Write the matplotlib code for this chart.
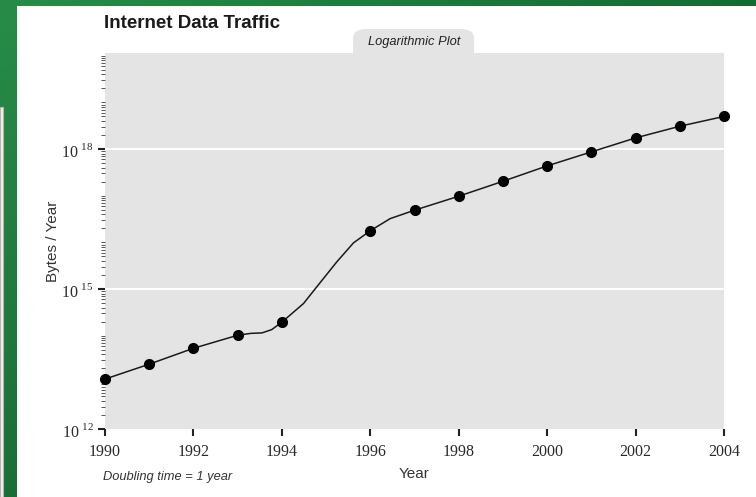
import numpy as np
import matplotlib
matplotlib.use("Agg")
import matplotlib.pyplot as plt
from matplotlib.patches import Rectangle, FancyBboxPatch
from matplotlib.ticker import FixedLocator, FixedFormatter, LogLocator, NullFormatter

plt.rcParams['font.family'] = ['Liberation Sans', 'DejaVu Sans']
plt.rcParams['mathtext.fontset'] = 'custom'
plt.rcParams['mathtext.rm'] = 'Liberation Serif'

# yearly measurements (log10 of bytes per year)
years = [1990, 1991, 1992, 1993, 1994, 1996, 1997, 1998, 1999, 2000, 2001, 2002, 2003, 2004]
log_bytes = [13.07, 13.39, 13.73, 14.01, 14.29, 16.25, 16.69, 16.99, 17.31, 17.64, 17.94, 18.24, 18.49, 18.70]

# trend curve drawn through the points
curve_years = [1990, 1991, 1992, 1993, 1993.3, 1993.55, 1993.77, 1994, 1994.49, 1994.75, 1995.24,
               1995.62, 1996, 1996.45, 1997, 1998, 1999, 2000, 2001, 2002, 2003, 2004]
curve_log = [13.07, 13.39, 13.73, 14.01, 14.05, 14.06, 14.13, 14.29, 14.69, 15.0, 15.58,
             15.99, 16.25, 16.51, 16.69, 16.99, 17.31, 17.64, 17.94, 18.24, 18.49, 18.70]

xticks = [1990, 1992, 1994, 1996, 1998, 2000, 2002, 2004]
ymajor = [1e12, 1e15, 1e18]
ylabels = [r'$10^{\ 12}$', r'$10^{\ 15}$', r'$10^{\ 18}$']

W, H = 756, 497
fig = plt.figure(figsize=(W / 100, H / 100), dpi=100)

# green backdrop with a soft gradient
bg = fig.add_axes([0, 0, 1, 1], zorder=-10)
bg.axis('off')
gx = np.linspace(0, 1, 200)[None, :]
gy = np.linspace(0, 1, 200)[:, None]
top = np.array([40, 140, 72]) / 255
dark = np.array([12, 82, 38]) / 255
t = np.clip(0.6 * gx + 0.5 * gy, 0, 1)[..., None]
grad = top * (1 - t) + dark * t
bg.imshow(grad, extent=[0, 1, 0, 1], aspect='auto', origin='upper')
bg.set_xlim(0, 1)
bg.set_ylim(0, 1)
bg.add_patch(Rectangle((17 / W, 0), 1, (H - 6) / H, facecolor='white', edgecolor='none'))
bg.add_patch(Rectangle((0, 0), 3 / W, (H - 107) / H, facecolor='#f2f0ec', edgecolor='#b8b4ae', lw=0.8))

# tab above the plot area
tab = FancyBboxPatch((353 / W, (H - 75) / H), 121 / W, 46 / H,
                     boxstyle='round,pad=0,rounding_size=0.018',
                     facecolor='#e4e4e4', edgecolor='none', transform=fig.transFigure, zorder=-5)
fig.patches.append(tab)
fig.text(414 / W, 1 - 42 / H, 'Logarithmic Plot', ha='center', va='center',
         fontsize=9.3, style='italic', color='#222222')

ax = fig.add_axes([105 / W, 1 - 429 / H, 619 / W, 376 / H])
ax.set_facecolor('#e4e4e4')
ax.set_yscale('log')
ax.set_xlim(1990, 2004)
ax.set_ylim(1e12, 10 ** 20.06)

for s in ax.spines.values():
    s.set_visible(False)

for v in ymajor[1:]:
    ax.axhline(v, color='white', lw=1.4, zorder=1)

ax.plot(curve_years, 10 ** np.array(curve_log), color='#1a1a1a', lw=1.1, zorder=2)
ax.plot(years, 10 ** np.array(log_bytes), 'o', color='black', ms=7, zorder=3, clip_on=False)

ax.xaxis.set_major_locator(FixedLocator(xticks))
ax.tick_params(axis='x', length=5, width=1.5, pad=6, color='#222222',
               labelsize=11.5, labelfontfamily='Liberation Serif', labelcolor='#2a2a2a')

ax.yaxis.set_major_locator(FixedLocator(ymajor))
ax.yaxis.set_major_formatter(FixedFormatter(ylabels))
ax.yaxis.set_minor_locator(LogLocator(base=10, subs=np.arange(1, 10), numticks=50))
ax.yaxis.set_minor_formatter(NullFormatter())
ax.tick_params(axis='y', which='major', length=5, width=1.5, pad=3, color='#222222',
               labelsize=11.5, labelcolor='#2a2a2a')
ax.tick_params(axis='y', which='minor', length=3, width=0.7, color='#555555')

ax.set_xlabel('Year', fontsize=11, color='#333333', labelpad=5)
ax.set_ylabel('Bytes / Year', fontsize=11, color='#333333', labelpad=1)

fig.text(104 / W, 1 - 23 / H, 'Internet Data Traffic', ha='left', va='center',
         fontsize=13.5, fontweight='bold', color='#1a1a1a')
fig.text(103 / W, 1 - 477 / H, 'Doubling time = 1 year', ha='left', va='center',
         fontsize=9.3, style='italic', color='#333333')

fig.savefig('out.png', dpi=100)
